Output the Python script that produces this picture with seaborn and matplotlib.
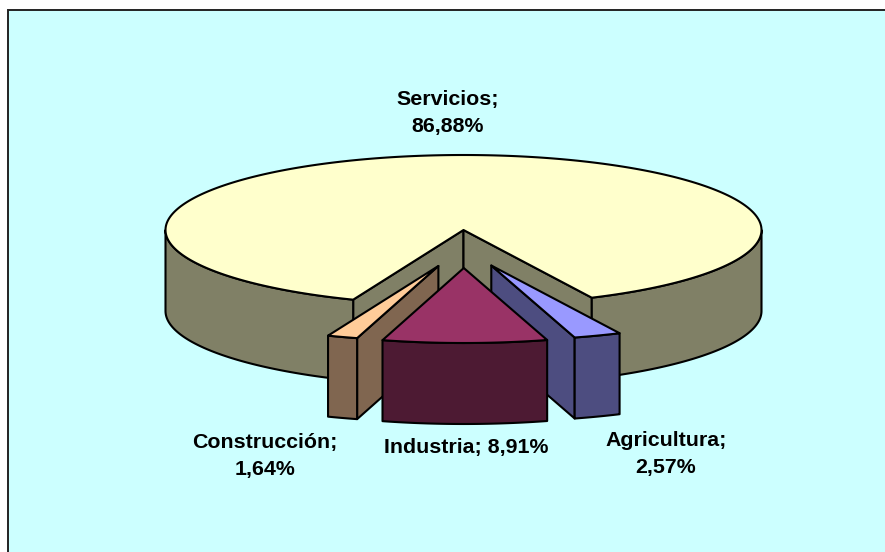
import numpy as np
import matplotlib
matplotlib.use("Agg")
import matplotlib.pyplot as plt
from matplotlib.patches import Rectangle
import seaborn as sns

# datos, en sentido horario desde abajo a la derecha
sectores = ["Agricultura", "Industria", "Construcción", "Servicios"]
valores = [2.57, 8.91, 1.64, 86.88]
etiquetas = ["Agricultura;\n2,57%", "Industria; 8,91%", "Construcción;\n1,64%", "Servicios;\n86,88%"]
despiece = [1, 1, 1, 0]
colores_top = ["#9999FF", "#993366", "#FFCC99", "#FFFFCC"]
colores_lado = ["#4D4D80", "#4D1A33", "#806650", "#808066"]
pos_etiquetas = [(666, 454), (466, 448), (265, 456), (448, 113)]

sns.set_theme(style="white")
plt.rcParams["font.family"] = ["Liberation Sans", "DejaVu Sans"]
paleta_top = sns.color_palette(colores_top)
paleta_lado = sns.color_palette(colores_lado)

cx, cy = 463.5, 230
rx, ry = 298, 75
alto = 81
ex, ey = 78, 38
inicio = 25.5
lw = 1.5

fig = plt.figure(figsize=(8.85, 5.52), dpi=100)
ax = fig.add_axes([0, 0, 1, 1])
ax.set_xlim(0, 885)
ax.set_ylim(552, 0)
ax.axis("off")
ax.add_patch(Rectangle((8, 10), 900, 560, facecolor="#CCFFFF", edgecolor="#222222", lw=1.4, zorder=0))


def punto(th, ox, oy):
    th = np.radians(th)
    return ox + rx * np.sin(th), oy + ry * np.cos(th)


def pared(p1, p2, color):
    xs = [p1[0], p2[0], p2[0], p1[0]]
    ys = [p1[1], p2[1], p2[1] + alto, p1[1] + alto]
    ax.fill(xs, ys, facecolor=color, edgecolor="black", lw=lw, joinstyle="round")


def arco(a, b, ox, oy, color):
    th = np.linspace(a, b, 80)
    x, y = punto(th, ox, oy)
    ax.fill(np.r_[x, x[::-1]], np.r_[y, y[::-1] + alto], facecolor=color,
            edgecolor="black", lw=lw, joinstyle="round")


# angulos a partir de los valores
angulos = inicio - np.r_[0, np.cumsum(np.array(valores) * 3.6)]
tramos = [(angulos[i], angulos[i + 1]) for i in range(len(valores))]

# primero Servicios (detras), luego los laterales y por ultimo Industria
orden = [3, 2, 0, 1]
for i in orden:
    a, b = tramos[i]
    medio = np.radians((a + b) / 2)
    ox = cx + despiece[i] * ex * np.sin(medio)
    oy = cy + despiece[i] * ey * np.cos(medio)
    pa, pb = punto(a, ox, oy), punto(b, ox, oy)

    # solo se ve la pared radial del lado que mira al centro
    if despiece[i] == 0:
        pared((ox, oy), pa, paleta_lado[i])
        pared((ox, oy), pb, paleta_lado[i])
        arco(a, -90, ox, oy, paleta_lado[i])
        arco(inicio, 90, ox, oy, paleta_lado[i])
    elif medio > 0.05:
        pared((ox, oy), pb, paleta_lado[i])
        arco(a, b, ox, oy, paleta_lado[i])
    elif medio < -0.05:
        pared((ox, oy), pa, paleta_lado[i])
        arco(a, b, ox, oy, paleta_lado[i])
    else:
        arco(a, b, ox, oy, paleta_lado[i])

    th = np.linspace(a, b, 300)
    x, y = punto(th, ox, oy)
    ax.fill(np.r_[ox, x], np.r_[oy, y], facecolor=paleta_top[i], edgecolor="black",
            lw=lw, joinstyle="round")

for txt, (x, y) in zip(etiquetas, pos_etiquetas):
    ax.text(x, y, txt, ha="center", va="center", fontsize=15.4, fontweight="bold",
            color="black", linespacing=1.55)

fig.savefig("out.png", dpi=100, facecolor="white")
